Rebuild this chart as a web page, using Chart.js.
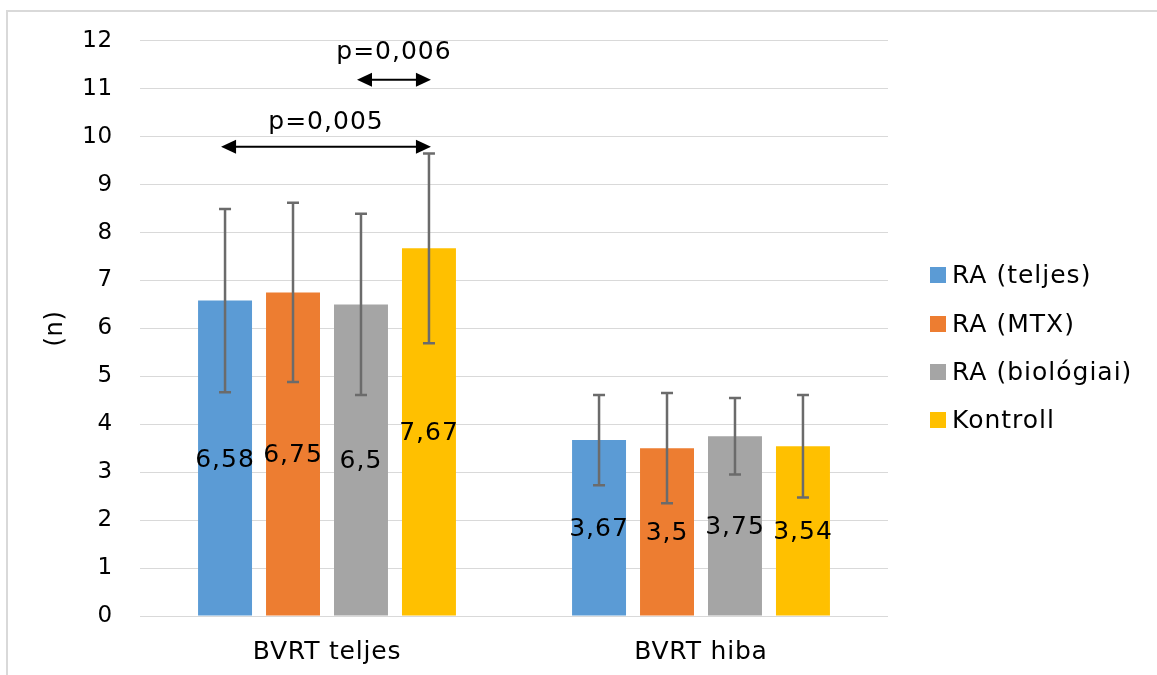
<!DOCTYPE html>
<html>
<head>
<meta charset="utf-8">
<script src="https://cdn.jsdelivr.net/npm/chart.js@4.4.1/dist/chart.umd.min.js"></script>
<style>
html,body{margin:0;padding:0;background:#fff;overflow:hidden;}
#wrap{position:relative;width:1157px;height:675px;}
</style>
</head>
<body>
<div id="wrap"><canvas id="c" width="1157" height="675"></canvas></div>
<script>
const categories = ["BVRT teljes", "BVRT hiba"];
const seriesNames = ["RA (teljes)", "RA (MTX)", "RA (biológiai)", "Kontroll"];
const raTeljes = [6.58, 3.67];
const raMTX = [6.75, 3.5];
const raBiologiai = [6.5, 3.75];
const kontroll = [7.67, 3.54];
const errTeljes = [1.91, 0.94];
const errMTX = [1.87, 1.15];
const errBiologiai = [1.89, 0.80];
const errKontroll = [1.98, 1.07];
const colors = ["#5B9BD5", "#ED7D31", "#A5A5A5", "#FFC000"];
const yTicks = [0,1,2,3,4,5,6,7,8,9,10,11,12];
// significance arrows: from dataset -> to dataset (in first category), arrow level, label level, text
const sigFrom = [0, 2];
const sigTo = [3, 3];
const sigY = [9.79, 11.19];
const sigLabelY = [10.29, 11.75];
const sigText = ["p=0,005", "p=0,006"];

const FONT = "'DejaVu Sans', Verdana, sans-serif";
const values = [raTeljes, raMTX, raBiologiai, kontroll];
const errs = [errTeljes, errMTX, errBiologiai, errKontroll];

const fmt = v => String(v).replace('.', ',');

const framePlugin = {
  id: 'frame',
  beforeDraw(chart) {
    const ctx = chart.ctx;
    ctx.save();
    ctx.fillStyle = '#fff';
    ctx.fillRect(0, 0, chart.width, chart.height);
    ctx.strokeStyle = '#d9d9d9';
    ctx.lineWidth = 2;
    ctx.beginPath();
    ctx.moveTo(7, chart.height + 5); ctx.lineTo(7, 11); ctx.lineTo(chart.width + 5, 11);
    ctx.stroke();
    ctx.restore();
    ctx.letterSpacing = '0.8px';
  }
};

const overlayPlugin = {
  id: 'overlay',
  afterDatasetsDraw(chart) {
    const ctx = chart.ctx;
    const ys = chart.scales.y;
    ctx.save();
    ctx.letterSpacing = '1px';
    // error bars
    ctx.strokeStyle = '#6b6b6b';
    ctx.lineWidth = 2.5;
    chart.data.datasets.forEach((ds, di) => {
      const meta = chart.getDatasetMeta(di);
      meta.data.forEach((el, i) => {
        const v = ds.data[i], e = errs[di][i];
        const yt = ys.getPixelForValue(v + e), yb = ys.getPixelForValue(v - e);
        ctx.beginPath();
        ctx.moveTo(el.x, yt); ctx.lineTo(el.x, yb);
        ctx.moveTo(el.x - 6, yt); ctx.lineTo(el.x + 6, yt);
        ctx.moveTo(el.x - 6, yb); ctx.lineTo(el.x + 6, yb);
        ctx.stroke();
      });
    });
    // data labels
    ctx.fillStyle = '#000';
    ctx.font = "25px " + FONT;
    ctx.textAlign = 'center';
    ctx.textBaseline = 'middle';
    chart.data.datasets.forEach((ds, di) => {
      const meta = chart.getDatasetMeta(di);
      meta.data.forEach((el, i) => {
        ctx.fillText(fmt(ds.data[i]), el.x, (el.y + el.base) / 2 + 2);
      });
    });
    // significance arrows
    ctx.strokeStyle = '#000';
    ctx.fillStyle = '#000';
    ctx.lineWidth = 2;
    for (let k = 0; k < sigText.length; k++) {
      const x1 = chart.getDatasetMeta(sigFrom[k]).data[0].x - 4;
      const x2 = chart.getDatasetMeta(sigTo[k]).data[0].x + 2;
      const y = ys.getPixelForValue(sigY[k]);
      ctx.beginPath();
      ctx.moveTo(x1 + 10, y); ctx.lineTo(x2 - 10, y);
      ctx.stroke();
      ctx.beginPath();
      ctx.moveTo(x1, y); ctx.lineTo(x1 + 15, y - 7); ctx.lineTo(x1 + 15, y + 7); ctx.closePath();
      ctx.fill();
      ctx.beginPath();
      ctx.moveTo(x2, y); ctx.lineTo(x2 - 15, y - 7); ctx.lineTo(x2 - 15, y + 7); ctx.closePath();
      ctx.fill();
      ctx.font = "25px " + FONT;
      ctx.fillText(sigText[k], (x1 + x2) / 2, ys.getPixelForValue(sigLabelY[k]));
    }
    // legend
    ctx.textAlign = 'left';
    ctx.font = "25px " + FONT;
    const legY = [275, 324, 372, 420];
    seriesNames.forEach((n, i) => {
      ctx.fillStyle = colors[i];
      ctx.fillRect(930, legY[i] - 8, 16, 16);
      ctx.fillStyle = '#000';
      ctx.fillText(n, 952, legY[i] + 1);
    });
    ctx.restore();
  }
};

new Chart(document.getElementById('c'), {
  type: 'bar',
  data: {
    labels: categories,
    datasets: seriesNames.map((n, i) => ({
      label: n,
      data: values[i],
      backgroundColor: colors[i],
      borderWidth: 0,
      categoryPercentage: 0.727,
      barPercentage: 0.794
    }))
  },
  options: {
    responsive: false,
    animation: false,
    devicePixelRatio: 1,
    layout: { padding: { left: 0, right: 269, top: 40, bottom: 0 } },
    plugins: { legend: { display: false }, tooltip: { enabled: false } },
    scales: {
      x: {
        grid: { display: false, drawTicks: false },
        border: { display: false },
        ticks: { color: '#000', font: { family: FONT, size: 25 }, padding: 21 },
        afterFit(s) { s.height = 59; }
      },
      y: {
        min: 0, max: 12,
        afterBuildTicks(s) { s.ticks = yTicks.map(v => ({ value: v })); },
        grid: { color: '#d9d9d9', lineWidth: 1, drawTicks: false },
        border: { display: false },
        ticks: { color: '#000', font: { family: FONT, size: 23 }, padding: 27 },
        title: { display: true, text: '(n)', color: '#000', font: { family: FONT, size: 24 }, padding: { top: 41 } },
        afterFit(s) { s.width = 140; }
      }
    }
  },
  plugins: [framePlugin, overlayPlugin]
});
</script>
</body>
</html>
